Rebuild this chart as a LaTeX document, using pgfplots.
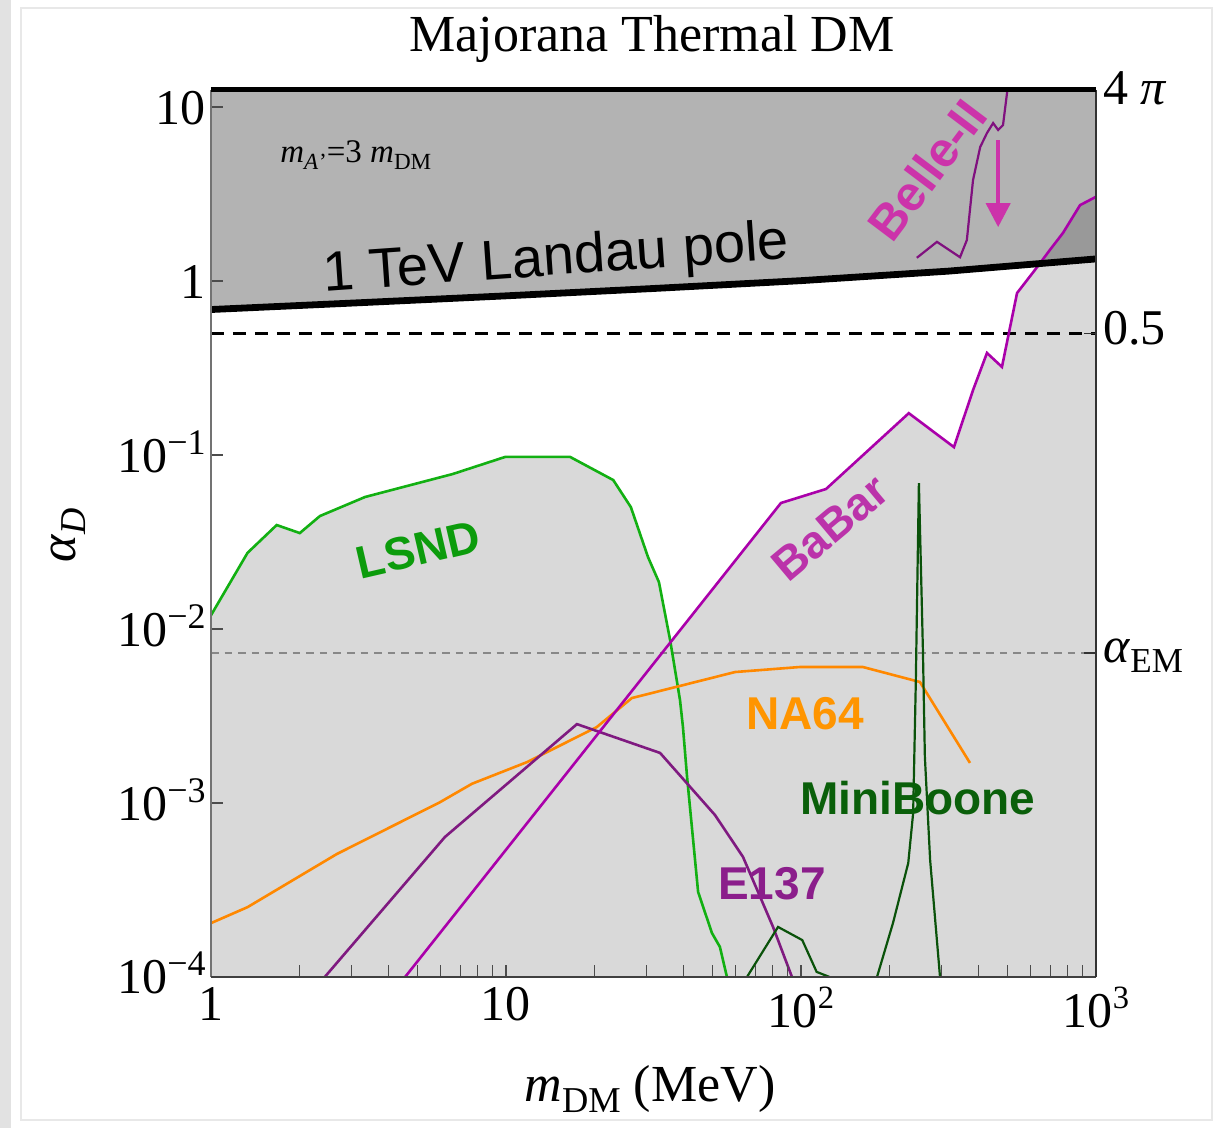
\documentclass[border=0pt]{standalone}
\usepackage{fontspec}
\setmainfont{Liberation Serif}
\newfontfamily\hel{Liberation Sans}
\usepackage{graphicx}
\usepackage{pgfplots}
\pgfplotsset{compat=1.18}
\usetikzlibrary{arrows.meta}
\definecolor{lgray}{HTML}{D9D9D9}
\definecolor{dgray}{HTML}{B3B3B3}
\definecolor{ddgray}{HTML}{999999}
\definecolor{stripgray}{HTML}{E2E2E2}
\definecolor{framegray}{HTML}{E8E8E8}
\definecolor{lsndc}{HTML}{12B012}
\definecolor{lsndt}{HTML}{0C9C0C}
\definecolor{babarc}{HTML}{AA00AA}
\definecolor{babart}{HTML}{BB33AA}
\definecolor{bellec}{HTML}{80107F}
\definecolor{bellet}{HTML}{CC33AA}
\definecolor{e137c}{HTML}{7F1A80}
\definecolor{e137t}{HTML}{8B1E8B}
\definecolor{na64c}{HTML}{FF8800}
\definecolor{na64t}{HTML}{FF9500}
\definecolor{mbc}{HTML}{0A520A}
\definecolor{mbt}{HTML}{0A5F0A}
\definecolor{emgray}{HTML}{888888}
\newcommand\sps[1]{\raisebox{0.38em}{\scalebox{0.65}{#1}}}
\newcommand\spy[1]{\raisebox{0.36em}{\scalebox{0.72}{#1}}}
\newcommand\sub[1]{\raisebox{-0.2em}{\scalebox{0.7}{#1}}}
\newcommand\pw[1]{10\sps{#1}}
\newcommand\pwy[1]{10\spy{#1}}
\begin{document}
\begin{tikzpicture}[x=1pt,y=1pt]
\fill[stripgray] (0,0) rectangle (5.5,564);
\draw[framegray, line width=0.6pt] (10.5,4) rectangle (606,560);
\begin{axis}[
  name=ax, at={(105.5pt,75.5pt)}, anchor=south west,
  width=442.5pt, height=443.6pt, scale only axis,
  xmode=log, ymode=log, xmin=1, xmax=1000, ymin=1e-4, ymax=12.566,
  axis on top, axis line style={draw=none},
  tick align=inside, xtick pos=left, ytick pos=left,
  xticklabel pos=left, yticklabel pos=left,
  major tick length=6pt, minor tick length=6pt,
  tick style={black!70, line width=0.6pt},
  xtick={1,10,100,1000}, xticklabels={1,10,\pw{2},\pw{3}},
  minor xtick={2,3,4,5,6,7,8,9,20,30,40,50,60,70,80,90,200,300,400,500,600,700,800,900},
  ytick={1e-4,1e-3,1e-2,1e-1,1,10},
  yticklabels={\pwy{−4},\pwy{−3},\pwy{−2},\pwy{−1},1,10},
  yminorticks=false,
  tick label style={font=\fontsize{25}{30}\selectfont},
  xticklabel style={anchor=north, inner sep=0pt, yshift=-5pt},
  yticklabel style={anchor=base east, inner sep=0pt, xshift=-2.5pt, yshift=-8.5pt},
  after end axis/.code={
    \draw[black!55, line width=1pt] (rel axis cs:0,0) -- (rel axis cs:0,1);
    \draw[black!75, line width=1.2pt] (rel axis cs:0,0) -- (rel axis cs:1,0);
    \draw[black!80, line width=0.8pt] (rel axis cs:1,0) -- (rel axis cs:1,1);
    \draw[black!80, line width=0.8pt] (axis cs:1000,0.5) -- ++(-6pt,0);
    \draw[black!80, line width=0.8pt] (axis cs:1000,0.007299) -- ++(-6pt,0);
    \draw[black, line width=2.6pt] (rel axis cs:0,1) -- (rel axis cs:1,1);
  },
]
% allowed region below the envelope of the constraints
\addplot[draw=none, fill=lgray] coordinates {
 (1,1e-4) (1,0.0120) (1.33,0.0274) (1.67,0.0396) (2.0,0.0356) (2.34,0.0446)
 (3.33,0.0574) (6.6,0.0778) (9.93,0.0975) (16.5,0.0975) (23.1,0.0718)
 (26.5,0.0502) (30.3,0.0259) (33.0,0.0186) (36.0,0.0085)
 (85.5,0.0530) (121.6,0.0638) (232,0.174) (330,0.111) (383,0.236) (427,0.386)
 (480,0.321) (540,0.853) (631,1.20) (698,1.51) (773,1.89) (883,2.73)
 (1000,3.05) (1000,1e-4) (1,1e-4)};
% above the Landau pole
\addplot[draw=none, fill=dgray] coordinates {
 (1,0.686) (3.16,0.750) (10,0.822) (31.6,0.906) (100,1.005) (316,1.140) (1000,1.34)
 (1000,12.566) (1,12.566) (1,0.686)};
\addplot[draw=none, fill=ddgray] coordinates {
 (644,1.259) (698,1.51) (773,1.89) (883,2.73) (1000,3.05) (1000,1.34) (644,1.259)};
% reference lines
\addplot[black, line width=1.4pt, dash pattern=on 6.5pt off 4.5pt] coordinates {(1,0.5) (1000,0.5)};
\addplot[emgray, line width=1.3pt, dash pattern=on 3.8pt off 3pt] coordinates {(1,0.007299) (1000,0.007299)};
% LSND
\addplot[lsndc, line width=1.3pt] coordinates {
 (1,0.0120) (1.33,0.0274) (1.67,0.0396) (2.0,0.0356) (2.34,0.0446) (3.33,0.0574)
 (6.6,0.0778) (9.93,0.0975) (16.5,0.0975) (23.1,0.0718) (26.5,0.0502) (30.3,0.0259)
 (33.0,0.0186) (36.0,0.00865) (38.9,0.00391) (39.8,0.00274) (41.1,0.00141)
 (44.8,3.08e-4) (49.9,1.79e-4) (53.1,1.49e-4) (56.1,1.0e-4)};
% NA64
\addplot[na64c, line width=1.3pt] coordinates {
 (1,2.04e-4) (1.33,2.52e-4) (2.67,5.09e-4) (5.97,1.01e-3) (7.67,1.29e-3)
 (11.8,1.72e-3) (20.3,2.73e-3) (26.7,4.01e-3) (59.8,5.66e-3) (99.3,6.05e-3)
 (162,6.05e-3) (253,4.96e-3) (374,1.70e-3)};
% E137
\addplot[e137c, line width=1.3pt] coordinates {
 (2.43,1e-4) (6.21,6.38e-4) (17.4,2.84e-3) (33.3,1.94e-3) (51.1,8.53e-4)
 (63.6,4.90e-4) (80.4,1.94e-4) (93.2,1.0e-4)};
% MiniBoone
\addplot[mbc, line width=1.1pt] coordinates {
 (65.6,1e-4) (83.6,1.94e-4) (101,1.63e-4) (113,1.07e-4) (125,1e-4)};
\addplot[mbc, line width=1.1pt] coordinates {
 (181,1e-4) (205,2.04e-4) (231,4.52e-4) (240,8.76e-4) (245,4.89e-3) (251,0.069)
 (259,7.57e-3) (263,1.84e-3) (274,4.70e-4) (296,1e-4)};
% BaBar
\addplot[babarc, line width=1.3pt] coordinates {
 (4.55,1e-4) (85.5,0.0530) (121.6,0.0638) (232,0.174) (330,0.111) (383,0.236)
 (427,0.386) (480,0.321) (540,0.853) (631,1.20) (698,1.51) (773,1.89) (883,2.73)
 (1000,3.05)};
% Belle-II
\addplot[bellec, line width=1.1pt] coordinates {
 (247,1.36) (289,1.68) (346,1.37) (365,1.72) (383,3.80) (405,5.89) (427,7.09)
 (448,8.09) (466,7.38) (484,7.88) (505,14)};
\addplot[bellet, line width=2pt, -{Triangle[length=12pt,width=12pt]}] coordinates {(466,6.46) (466,2.04)};
% Landau pole
\addplot[black, line width=3.4pt] coordinates {
 (1,0.686) (3.16,0.750) (10,0.822) (31.6,0.906) (100,1.005) (316,1.140) (1000,1.34)};
\end{axis}
\begin{scope}[every node/.style={inner sep=0pt}]
\node[anchor=base, font=\fontsize{26}{30}\selectfont] at (326,538) {Majorana Thermal DM};
\node[anchor=base west, font=\fontsize{16.5}{19}\selectfont] at (140,482.5) {\textit{m}\sub{\textit{A}\kern0.5pt\textrm{'}}=3 \textit{m}\sub{DM}};
\node[anchor=base, rotate=4, font=\hel\fontsize{28}{32}\selectfont] at (278.5,426.5) {1 TeV Landau pole};
\node[anchor=base, rotate=13, text=lsndt, font=\hel\bfseries\fontsize{23}{26}\selectfont] at (211,281.5) {LSND};
\node[anchor=center, rotate=40, text=babart, font=\hel\bfseries\fontsize{23}{26}\selectfont] at (415,300) {BaBar};
\node[anchor=base, text=na64t, font=\hel\bfseries\fontsize{23}{26}\selectfont] at (402.5,199) {NA64};
\node[anchor=base, text=mbt, font=\hel\bfseries\fontsize{23}{26}\selectfont] at (459,156.5) {MiniBoone};
\node[anchor=base, text=e137t, font=\hel\bfseries\fontsize{23}{26}\selectfont] at (386,114) {E137};
\node[anchor=center, rotate=53, text=bellet, font=\hel\bfseries\fontsize{24.5}{28}\selectfont] at (463.5,479) {Belle-II};
\node[anchor=base west, font=\fontsize{25}{30}\selectfont] at (551.5,511.5) {4 \textit{π}};
\node[anchor=base west, font=\fontsize{25}{30}\selectfont] at (551.5,391.5) {0.5};
\node[anchor=base west, font=\fontsize{25}{30}\selectfont] at (551.5,232.5) {\textit{α}\sub{EM}};
\node[rotate=90, font=\fontsize{26}{30}\selectfont] at (34,296.5) {\textit{α}\sub{\textit{D}}};
\node[anchor=base, font=\fontsize{26}{30}\selectfont] at (325,13) {\textit{m}\sub{DM} (MeV)};
\end{scope}
\pgfresetboundingbox
\useasboundingbox (0,0) rectangle (608.5,564);
\end{tikzpicture}
\end{document}
